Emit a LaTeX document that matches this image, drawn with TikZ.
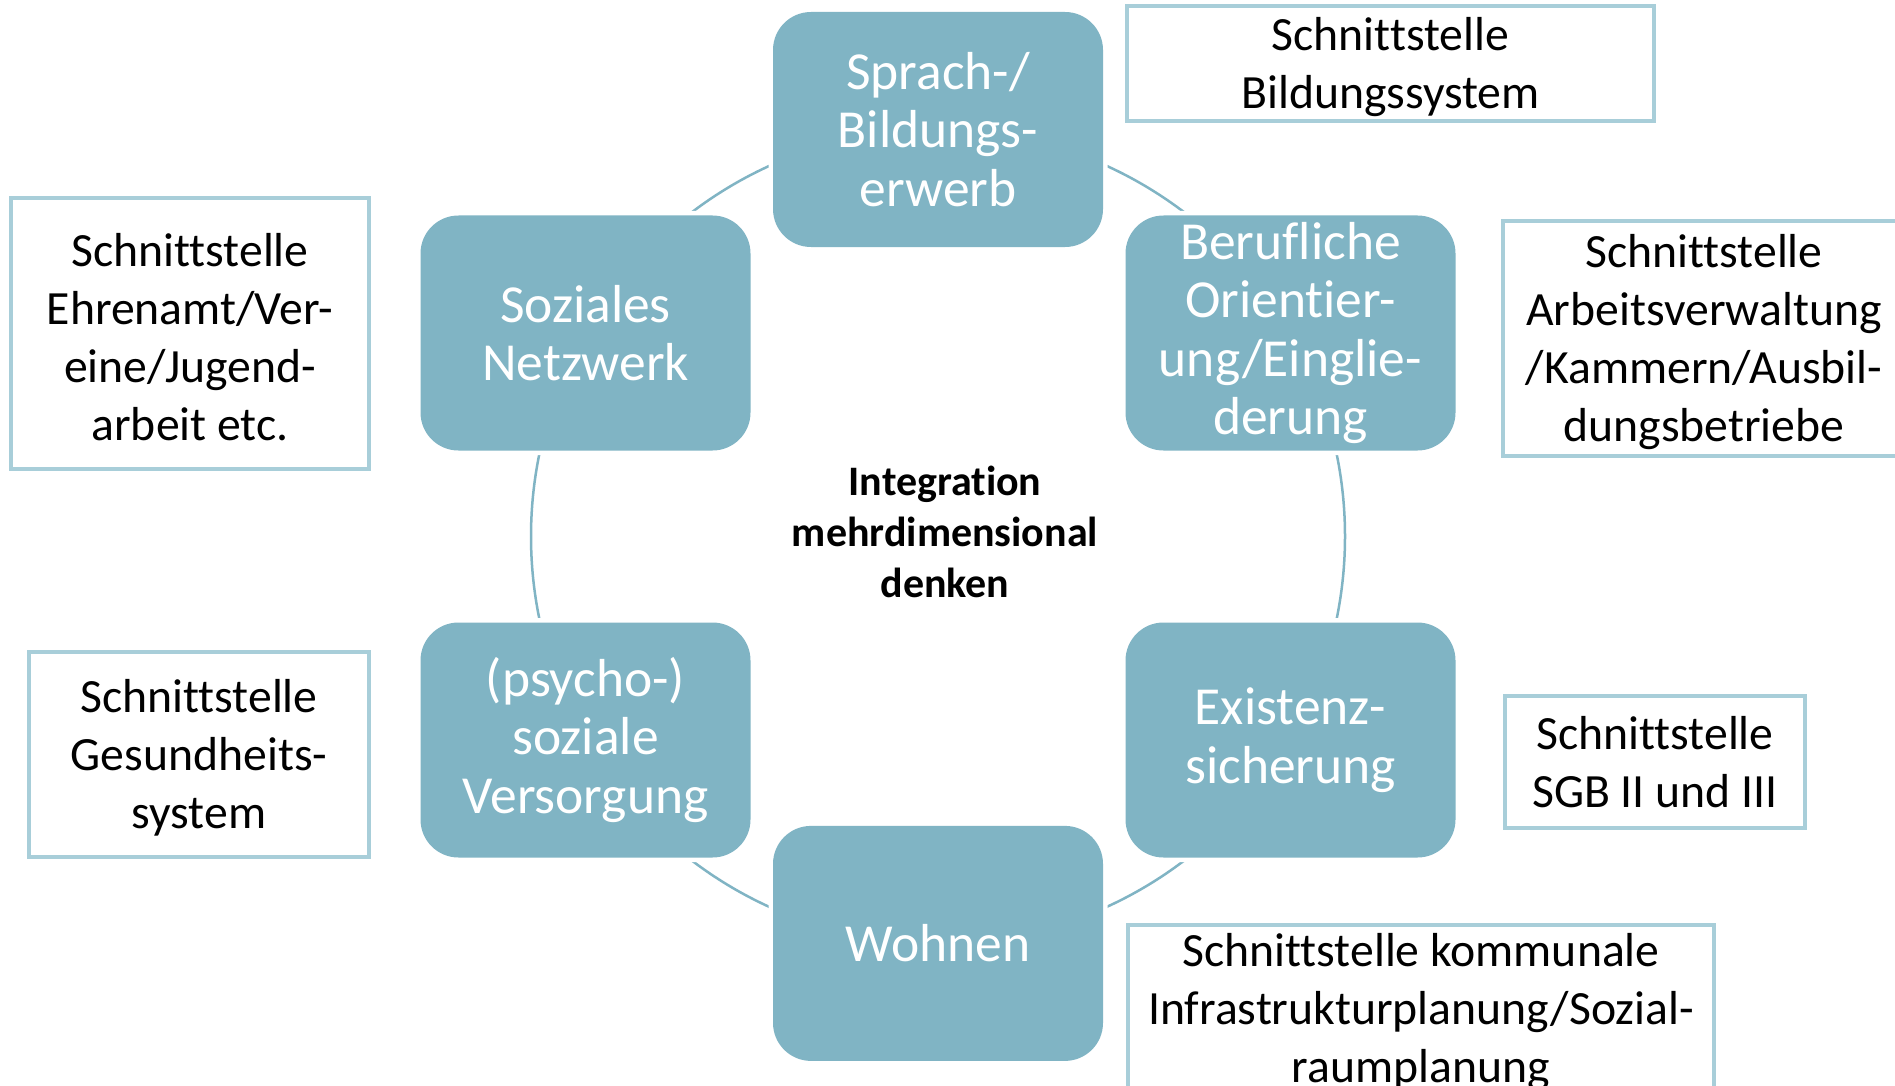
\documentclass[tikz,border=0pt]{standalone}
\usepackage{fontspec}
\setmainfont{Carlito}[Ligatures=NoCommon]
\definecolor{teal1}{RGB}{128,180,196}
\definecolor{edge1}{RGB}{168,206,217}
\newcommand{\mystrut}{\rule[-0.26em]{0pt}{1.2em}}
\newcommand{\mytallstrut}{\rule[-0.26em]{0pt}{1.35em}}
\begin{document}
\begin{tikzpicture}[x=1pt,y=-1pt,
  dim/.style={rounded corners=38pt, fill=teal1, text=white, minimum width=330pt,
    minimum height=235pt, inner sep=0pt, align=center,
    font=\fontsize{53.5}{58.5}\selectfont, preaction={draw=white, line width=9pt}},
  iface/.style={draw=edge1, line width=4pt, fill=white, inner sep=0pt, align=center,
    font=\fontsize{47.7}{58}\selectfont},
  ring/.style={draw=teal1, line width=2.5pt}
]
\fill[white] (0,0) rectangle (1895,1086);
\useasboundingbox (0,0) rectangle (1895,1086);
\coordinate (c) at (938,536.4);
\draw[ring] (c) circle[radius=407pt];

\node[dim] (spr) at (938,129.5) {Sprach-/\\Bildungs-\\erwerb};
\node[dim] (soz) at (585.5,333) {Soziales\\Netzwerk};
\node[dim] (ber) at (1290.5,333) {Berufliche\\Orientier-\\ung/Einglie-\\derung};
\node[dim] (psy) at (585.5,740) {(psycho-)\\soziale\\Versorgung};
\node[dim] (exi) at (1290.5,740) {Existenz-\\sicherung};
\node[dim] (woh) at (938,943.4) {Wohnen};

\node[align=center, font=\fontsize{42}{51}\selectfont\bfseries] (mid) at (945,532)
  {Integration\\mehrdimensional\\denken};

\node[iface, minimum width=527pt, minimum height=113pt] (ibild) at (1390.5,63.5)
  {\mystrut Schnittstelle\\Bildungssystem\mystrut};
\node[iface, minimum width=358.5pt, minimum height=271pt] (iehr) at (190,333.5)
  {\mytallstrut Schnittstelle\\Ehrenamt/Ver-\\eine/Jugend-\\arbeit etc.\mystrut};
\node[iface, minimum width=402pt, minimum height=235pt] (iarb) at (1704,338.5)
  {\mystrut Schnittstelle\\Arbeitsverwaltung\\/Kammern/Ausbil-\\dungsbetriebe\mystrut};
\node[iface, minimum width=340pt, minimum height=205pt] (iges) at (199,754.5)
  {\mystrut Schnittstelle\\Gesundheits-\\system\mystrut};
\node[iface, minimum width=300pt, minimum height=132pt] (isgb) at (1655,762)
  {\mystrut Schnittstelle\\SGB II und III\mystrut};
\node[iface, minimum width=586pt, minimum height=175pt] (ikom) at (1421,1012)
  {Schnittstelle kommunale\\Infrastrukturplanung/Sozial-\\raumplanung};
\end{tikzpicture}
\end{document}
